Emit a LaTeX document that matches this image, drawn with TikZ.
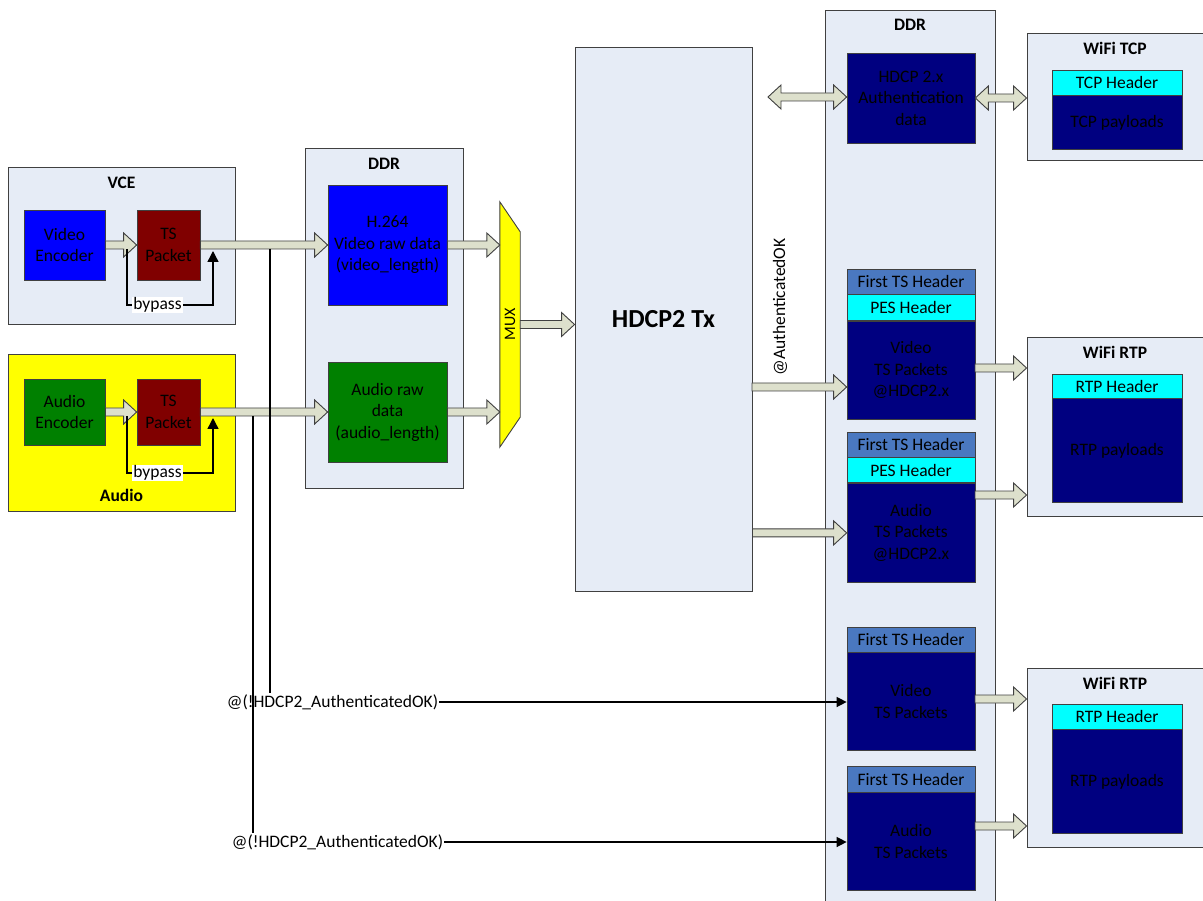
\documentclass[tikz,border=0pt]{standalone}
\usepackage{fontspec}
\setmainfont{Carlito}
\usepackage{tikz}
\usetikzlibrary{arrows.meta,calc,positioning}
\definecolor{hpanel}{HTML}{E6ECF6}
\definecolor{hedge}{HTML}{404040}
\definecolor{hblue}{HTML}{0000FF}
\definecolor{hmaroon}{HTML}{800000}
\definecolor{hgreen}{HTML}{008000}
\definecolor{hyellow}{HTML}{FFFF00}
\definecolor{hnavy}{HTML}{000080}
\definecolor{hcyan}{HTML}{00FFFF}
\definecolor{hsteel}{HTML}{4A78C0}
\definecolor{hpipefill}{HTML}{DDE0CC}
\tikzset{
  >={Triangle[length=10pt,width=10pt]},
  hcont/.style={draw=hedge, fill=hpanel, line width=0.9pt, inner sep=0pt},
  hblk/.style={draw=black!75, line width=0.7pt, inner sep=1pt, align=center,
               minimum width=128pt, font=\fontsize{17.5}{21.5}\selectfont},
  htitle/.style={font=\bfseries\fontsize{17.5}{21}\selectfont},
  hpipe/.style={draw=hedge, fill=hpipefill, line width=0.9pt, line join=miter},
  hwire/.style={black, line width=1.4pt},
  hlbl/.style={font=\fontsize{17.5}{21}\selectfont, inner sep=1pt},
}
% horizontal block arrows
\newcommand{\blockarr}[2]{%
  \draw[hpipe] let \p1=#1, \p2=#2 in
    (\x1,\y1+4pt) -- (\x2-13pt,\y1+4pt) -- (\x2-13pt,\y1+12pt) -- (\x2,\y1)
    -- (\x2-13pt,\y1-12pt) -- (\x2-13pt,\y1-4pt) -- (\x1,\y1-4pt) -- cycle;}
\newcommand{\dblarr}[2]{%
  \draw[hpipe] let \p1=#1, \p2=#2 in
    (\x1,\y1) -- (\x1+13pt,\y1+12pt) -- (\x1+13pt,\y1+4pt) -- (\x2-13pt,\y1+4pt)
    -- (\x2-13pt,\y1+12pt) -- (\x2,\y1) -- (\x2-13pt,\y1-12pt) -- (\x2-13pt,\y1-4pt)
    -- (\x1+13pt,\y1-4pt) -- (\x1+13pt,\y1-12pt) -- cycle;}

\begin{document}
\begin{tikzpicture}[x=1pt,y=-1pt]
  \useasboundingbox (0,0) rectangle (1203,901);

  % containers
  \node[hcont, minimum width=227pt, minimum height=157pt] (vce) at (121.5,245.5) {};
  \node[hcont, fill=hyellow, minimum width=227pt, minimum height=157pt] (aud) at (121.5,432.5) {};
  \node[hcont, minimum width=158pt, minimum height=340pt] (ddrl) at (384,318) {};
  \node[hcont, minimum width=177pt, minimum height=544pt,
        font=\bfseries\fontsize{26}{30}\selectfont] (hdcp) at (663.5,319) {HDCP2 Tx};
  \node[hcont, minimum width=170pt, minimum height=900pt] (ddrr) at (910,460) {};
  \node[hcont, minimum width=180pt, minimum height=127pt] (tcp) at (1117,96.5) {};
  \node[hcont, minimum width=180pt, minimum height=179pt] (rtpa) at (1117,426.5) {};
  \node[hcont, minimum width=180pt, minimum height=179pt] (rtpb) at (1117,757.5) {};

  \node[htitle] (vcet)  at (121.5,183) {VCE};
  \node[htitle] (audt)  at (121.5,495) {Audio};
  \node[htitle] (ddrlt) at (384,164) {DDR};
  \node[htitle] (ddrrt) at (910,25) {DDR};
  \node[htitle] (tcpt)  at (1115,48) {WiFi TCP};
  \node[htitle] (rtpat) at (1115,352) {WiFi RTP};
  \node[htitle] (rtpbt) at (1115,683) {WiFi RTP};

  % encoders
  \node[hblk, fill=hblue, minimum width=81pt, minimum height=70pt] (encv) at (64.5,245) {Video\\Encoder};
  \node[hblk, fill=hmaroon, minimum width=63pt, minimum height=70pt] (tsv) at (168.5,245) {TS\\Packet};
  \node[hblk, fill=hgreen, minimum width=81pt, minimum height=66pt] (enca) at (64.5,412) {Audio\\Encoder};
  \node[hblk, fill=hmaroon, minimum width=63pt, minimum height=66pt] (tsa) at (168.5,412) {TS\\Packet};

  % raw data in DDR
  \node[hblk, fill=hblue, minimum width=119pt, minimum height=120pt] (h264) at (387.5,245)
    {H.264\\Video raw data\\(video\_length)};
  \node[hblk, fill=hgreen, minimum width=119pt, minimum height=100pt] (araw) at (387.5,412)
    {Audio raw\\data\\(audio\_length)};

  % mux
  \node[minimum width=20pt, minimum height=245pt, inner sep=0pt] (mux) at (510,324.5) {};
  \draw[draw=hedge, fill=hyellow, line width=0.9pt] (mux.north west) -- ([yshift=-30pt]mux.north east)
    -- ([yshift=30pt]mux.south east) -- (mux.south west) -- cycle;
  \node[rotate=90, font=\fontsize{16}{19}\selectfont] (muxt) at (mux.center) {MUX};

  % right DDR
  \node[hblk, fill=hnavy, minimum height=90pt] (auth) at (911,98) {HDCP 2.x\\Authentication\\data};
  \node[hblk, fill=hsteel, minimum height=25pt] (fvh) at (911,281.5) {First TS Header};
  \node[hblk, fill=hcyan, minimum height=26pt, below=0pt of fvh] (pvh) {PES Header};
  \node[hblk, fill=hnavy, minimum height=98pt, below=0pt of pvh] (vh) {Video\\TS Packets\\@HDCP2.x};
  \node[hblk, fill=hsteel, minimum height=25pt] (fah) at (911,444.5) {First TS Header};
  \node[hblk, fill=hcyan, minimum height=25pt, below=0pt of fah] (pah) {PES Header};
  \node[hblk, fill=hnavy, minimum height=99pt, below=0pt of pah] (ah) {Audio\\TS Packets\\@HDCP2.x};
  \node[hblk, fill=hsteel, minimum height=25pt] (fv) at (911,639.5) {First TS Header};
  \node[hblk, fill=hnavy, minimum height=98pt, below=0pt of fv] (vp) {Video\\TS Packets};
  \node[hblk, fill=hsteel, minimum height=26pt] (fa) at (911,779) {First TS Header};
  \node[hblk, fill=hnavy, minimum height=98pt, below=0pt of fa] (ap) {Audio\\TS Packets};

  % wifi payloads
  \node[hblk, fill=hcyan, minimum width=130pt, minimum height=25pt] (tcph) at (1117,82.5) {TCP Header};
  \node[hblk, fill=hnavy, minimum width=130pt, minimum height=54pt, below=0pt of tcph] (tcpp) {TCP payloads};
  \node[hblk, fill=hcyan, minimum width=130pt, minimum height=24pt] (rtpha) at (1117,386) {RTP Header};
  \node[hblk, fill=hnavy, minimum width=130pt, minimum height=104pt, below=0pt of rtpha] (rtppa) {RTP payloads};
  \node[hblk, fill=hcyan, minimum width=130pt, minimum height=25pt] (rtphb) at (1117,716.5) {RTP Header};
  \node[hblk, fill=hnavy, minimum width=130pt, minimum height=104pt, below=0pt of rtphb] (rtppb) {RTP payloads};

  % data paths
  \blockarr{(encv.east)}{(tsv.west)}
  \blockarr{(enca.east)}{(tsa.west)}
  \blockarr{(tsv.east)}{(h264.west)}
  \blockarr{(tsa.east)}{(araw.west)}
  \blockarr{(h264.east)}{(mux.west |- h264.east)}
  \blockarr{(araw.east)}{(mux.west |- araw.east)}
  \blockarr{(mux.east)}{(hdcp.west |- mux.east)}

  \coordinate (authl) at (768,97);
  \dblarr{(authl)}{(auth.west)}
  \dblarr{(auth.east)}{(tcp.west |- auth.east)}

  \coordinate (okv) at (752,387);
  \blockarr{(okv)}{(okv -| vh.west)}
  \blockarr{(hdcp.east |- ah.west)}{(ah.west)}
  \node[hlbl, rotate=90] (okl) at (780,307) {@AuthenticatedOK};

  \coordinate (vho) at (975,368);
  \coordinate (aho) at (975,495);
  \coordinate (vpo) at (975,699);
  \coordinate (apo) at (975,826);
  \blockarr{(vho)}{(vho -| rtpa.west)}
  \blockarr{(aho)}{(aho -| rtpa.west)}
  \blockarr{(vpo)}{(vpo -| rtpb.west)}
  \blockarr{(apo)}{(apo -| rtpb.west)}

  % bypass
  \coordinate (bvs) at (127,249);
  \coordinate (bve) at (213,251);
  \coordinate (bas) at (127,416);
  \coordinate (bae) at (213,418);
  \node[hlbl, fill=white] (bpv) at (157.5,305) {bypass};
  \node[hlbl, fill=white] (bpa) at (157.5,473) {bypass};
  \draw[hwire] (bvs) |- (bpv.west);
  \draw[hwire, -{Triangle[length=11pt,width=11pt]}] (bpv.east) -| (bve);
  \draw[hwire] (bas) |- (bpa.west);
  \draw[hwire, -{Triangle[length=11pt,width=11pt]}] (bpa.east) -| (bae);

  % not authenticated
  \coordinate (tapv) at (270,249);
  \coordinate (tapa) at (253,416);
  \node[hlbl] (nokv) at (332.5,702) {@(!HDCP2\_AuthenticatedOK)};
  \node[hlbl] (noka) at (337.5,842) {@(!HDCP2\_AuthenticatedOK)};
  \draw[hwire] (tapv) -- (tapv |- nokv.north);
  \draw[hwire] (tapa) -- (tapa |- noka.north);
  \draw[hwire, ->] (nokv.east) -- (nokv.east -| vp.west);
  \draw[hwire, ->] (noka.east) -- (noka.east -| ap.west);

\end{tikzpicture}
\end{document}
